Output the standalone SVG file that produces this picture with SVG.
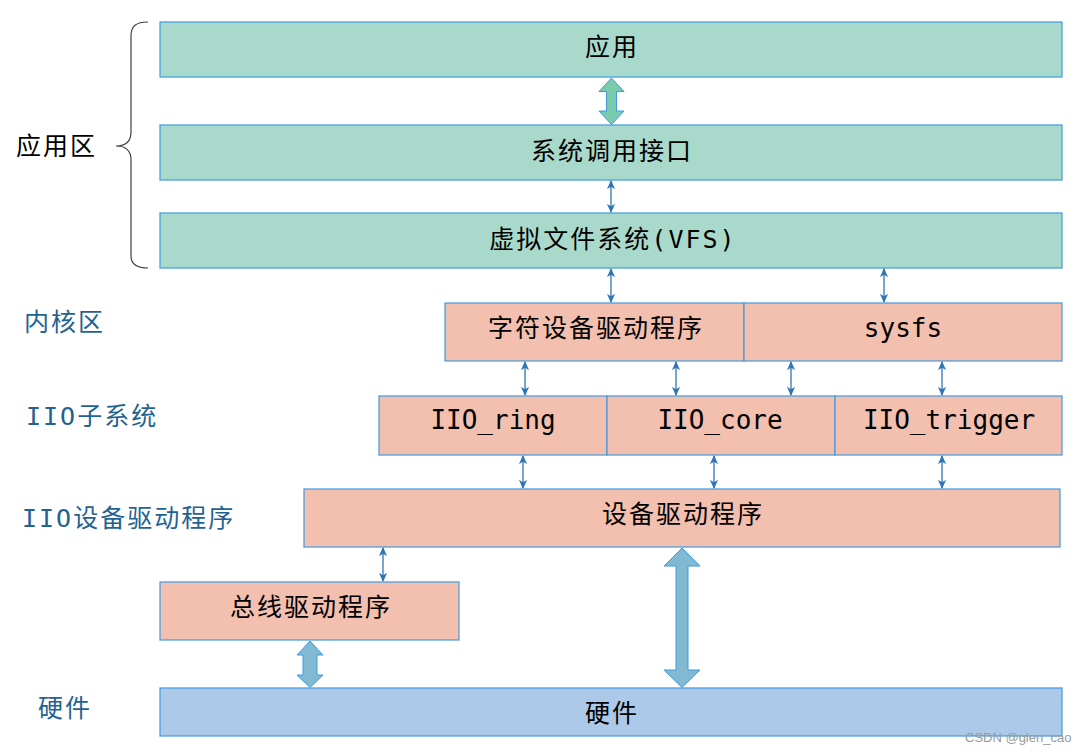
<svg xmlns="http://www.w3.org/2000/svg" width="1086" height="754" viewBox="0 0 1086 754">
<defs>
<style>
.g{fill:#A9D9CB;stroke:#3F9BE0;stroke-width:1.2}
.p{fill:#F3BFAE;stroke:#3F9BE0;stroke-width:1.2}
.h{fill:#ADC9E9;stroke:#3F9BE0;stroke-width:1.2}
.t{font-family:"DejaVu Sans Mono","Noto Sans CJK SC",monospace;font-size:25px;fill:#000;text-anchor:middle;dominant-baseline:central;letter-spacing:2px}
.m{font-family:"DejaVu Sans Mono","Noto Sans CJK SC",monospace;font-size:26px;fill:#000;text-anchor:middle;dominant-baseline:central}
.l{font-family:"DejaVu Sans Mono","Noto Sans CJK SC",monospace;font-size:25px;fill:#1F6392;letter-spacing:2px}
.s{stroke:#2E75B6;stroke-width:1.3;fill:none;marker-start:url(#a);marker-end:url(#a)}
.bg{fill:#7ACBAE;stroke:#3F9BE0;stroke-width:1}
.bb{fill:#80B9D1;stroke:#3F9BE0;stroke-width:1}
</style>
<marker id="a" viewBox="0 0 10 10" refX="9" refY="5" markerWidth="9" markerHeight="9" markerUnits="userSpaceOnUse" orient="auto-start-reverse">
<path d="M0,0.5 L10,5 L0,9.5 L2.5,5 Z" fill="#2E75B6"/>
</marker>
</defs>

<path d="M148,22 C136,22 131,26 131,36 L131,132 C131,141 126,146 116,146 C126,146 131,151 131,160 L131,256 C131,264 136,268 148,268" fill="none" stroke="#404040" stroke-width="1.2"/>

<g id="labels">
<text x="16" y="155" class="l" style="fill:#000">应用区</text>
<text x="24" y="331" class="l">内核区</text>
<text x="26" y="425" class="l">IIO子系统</text>
<text x="22" y="527" class="l">IIO设备驱动程序</text>
<text x="38" y="717" class="l">硬件</text>
</g>

<g id="n-app"><rect class="g" x="160" y="22" width="902" height="55"/><text class="t" x="612" y="47">应用</text></g>
<g id="n-syscall"><rect class="g" x="160" y="125" width="902" height="55"/><text class="t" x="612" y="151">系统调用接口</text></g>
<g id="n-vfs"><rect class="g" x="160" y="213" width="902" height="55"/><text class="t" x="613" y="239">虚拟文件系统(VFS)</text></g>
<g id="n-chardev"><rect class="p" x="445" y="303" width="299" height="58"/><text class="t" x="596" y="328">字符设备驱动程序</text></g>
<g id="n-sysfs"><rect class="p" x="744" y="303" width="318" height="58"/><text class="m" x="903" y="328">sysfs</text></g>
<g id="n-ring"><rect class="p" x="379" y="396" width="228" height="59"/><text class="m" x="493" y="420">IIO_ring</text></g>
<g id="n-core"><rect class="p" x="607" y="396" width="228" height="59"/><text class="m" x="720" y="420">IIO_core</text></g>
<g id="n-trigger"><rect class="p" x="835" y="396" width="227" height="59"/><text class="m" x="949" y="420">IIO_trigger</text></g>
<g id="n-devdrv"><rect class="p" x="304" y="489" width="756" height="58"/><text class="t" x="683" y="514">设备驱动程序</text></g>
<g id="n-busdrv"><rect class="p" x="160" y="582" width="299" height="58"/><text class="t" x="311" y="607">总线驱动程序</text></g>
<g id="n-hw"><rect class="h" x="160" y="688" width="902" height="48"/><text class="t" x="612" y="713">硬件</text></g>

<g id="connectors">
<path class="bg" d="M611.5,78 L624,91.5 L616.5,91.5 L616.5,111 L624,111 L611.5,124.5 L599,111 L606.5,111 L606.5,91.5 L599,91.5 Z"/>
<path class="bb" d="M310,641 L323,655 L317,655 L317,675 L323,675 L310,687.5 L297,675 L303,675 L303,655 L297,655 Z"/>
<path class="bb" d="M682,548 L700,566 L688,566 L688,670 L700,670 L682,687.5 L664,670 L676,670 L676,566 L664,566 Z"/>
<line class="s" x1="611" y1="181" x2="611" y2="212"/>
<line class="s" x1="611" y1="269" x2="611" y2="302"/>
<line class="s" x1="884" y1="269" x2="884" y2="302"/>
<line class="s" x1="525" y1="362" x2="525" y2="395"/>
<line class="s" x1="676" y1="362" x2="676" y2="395"/>
<line class="s" x1="791" y1="362" x2="791" y2="395"/>
<line class="s" x1="942" y1="362" x2="942" y2="395"/>
<line class="s" x1="523" y1="456" x2="523" y2="488"/>
<line class="s" x1="714" y1="456" x2="714" y2="488"/>
<line class="s" x1="942" y1="456" x2="942" y2="488"/>
<line class="s" x1="383" y1="548" x2="383" y2="581"/>
</g>

<text x="965" y="742" font-family="Liberation Sans, sans-serif" font-size="13" fill="#9A9A9A">CSDN @glen_cao</text>
</svg>
